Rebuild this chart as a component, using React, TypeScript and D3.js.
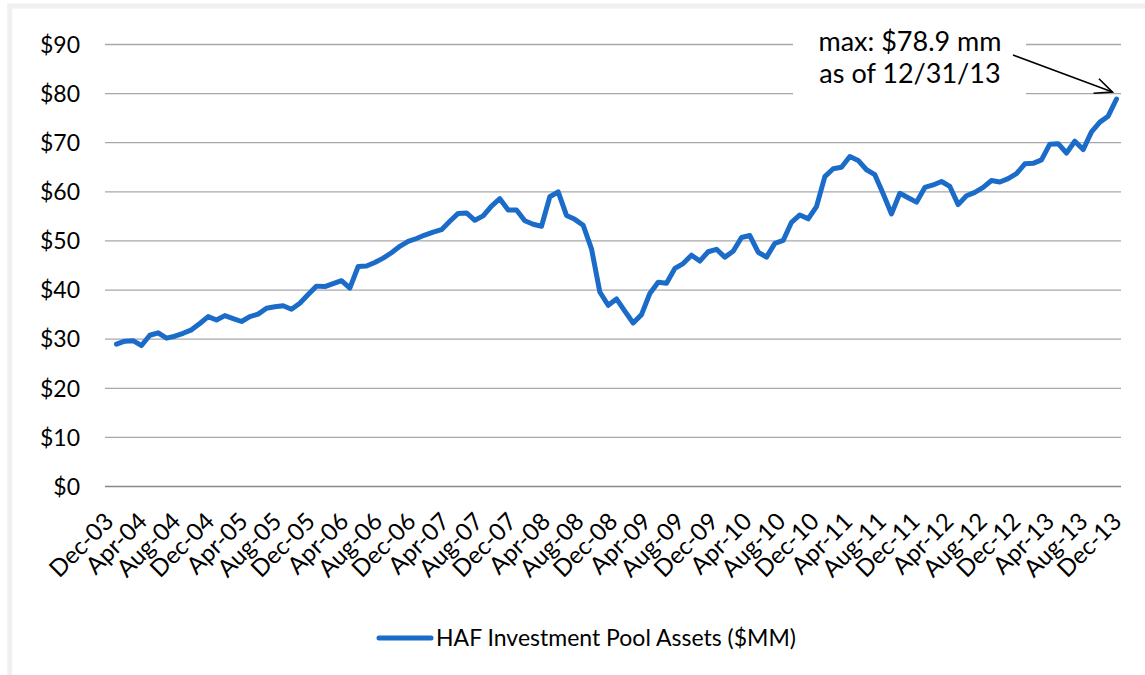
import React from "react";
import * as d3 from "d3";

// Monthly HAF Investment Pool Assets ($MM), Dec-03 .. Dec-13
const poolAssets: number[] = [
  29.0, 29.6, 29.7, 28.7, 30.8, 31.3, 30.2, 30.6, 31.2, 31.9,
  33.2, 34.6, 33.9, 34.8, 34.2, 33.6, 34.6, 35.1, 36.3, 36.6,
  36.8, 36.1, 37.3, 39.1, 40.8, 40.7, 41.3, 41.9, 40.4, 44.8,
  44.9, 45.6, 46.5, 47.6, 48.9, 49.9, 50.5, 51.2, 51.8, 52.3,
  54.0, 55.6, 55.7, 54.2, 55.1, 57.1, 58.6, 56.3, 56.3, 54.1,
  53.4, 53.0, 59.0, 60.0, 55.2, 54.4, 53.2, 48.4, 39.6, 36.9,
  38.2, 35.7, 33.3, 35.0, 39.3, 41.6, 41.4, 44.4, 45.4, 47.1,
  45.9, 47.8, 48.3, 46.7, 47.9, 50.7, 51.1, 47.7, 46.7, 49.5,
  50.1, 53.8, 55.3, 54.5, 57.0, 63.1, 64.7, 65.0, 67.2, 66.4,
  64.5, 63.5, 59.6, 55.5, 59.7, 58.8, 57.9, 60.9, 61.4, 62.1,
  61.1, 57.4, 59.2, 59.9, 60.9, 62.3, 62.0, 62.7, 63.7, 65.7,
  65.8, 66.5, 69.7, 69.8, 67.9, 70.3, 68.6, 72.2, 74.2, 75.4,
  78.9,
];

const months: Date[] = d3.timeMonth.range(new Date(2003, 11, 1), new Date(2014, 0, 1));
const categories: string[] = months.map(d3.timeFormat("%b-%y"));

const tickLabels: string[] = [
  "Dec-03", "Apr-04", "Aug-04", "Dec-04", "Apr-05", "Aug-05", "Dec-05", "Apr-06",
  "Aug-06", "Dec-06", "Apr-07", "Aug-07", "Dec-07", "Apr-08", "Aug-08", "Dec-08",
  "Apr-09", "Aug-09", "Dec-09", "Apr-10", "Aug-10", "Dec-10", "Apr-11", "Aug-11",
  "Dec-11", "Apr-12", "Aug-12", "Dec-12", "Apr-13", "Aug-13", "Dec-13",
];

const yTicks: number[] = [0, 10, 20, 30, 40, 50, 60, 70, 80, 90];

const seriesName = "HAF Investment Pool Assets ($MM)";
const noteLines: string[] = ["max: $78.9 mm", "as of 12/31/13"];

const FONT = "Lato, 'Open Sans', 'DejaVu Sans', sans-serif";
const BLUE = "#1b6bc9";

export default function App() {
  const W = 1145;
  const H = 675;
  const x = d3.scalePoint<string>().domain(categories).range([116.5, 1116.5]);
  const xLab = d3.scalePoint<string>().domain(categories).range([115, 1123]);
  const y = d3.scaleLinear().domain([0, 90]).range([486.5, 44.5]);
  const gridX0 = 105;
  const gridX1 = 1121;

  const line = d3
    .line<number>()
    .x((_, i) => x(categories[i]) as number)
    .y((d) => y(d));

  const lastIdx = poolAssets.length - 1;
  const tipX = (x(categories[lastIdx]) as number) - 4;
  const tipY = y(80) - 1.5;
  const startX = 1013;
  const startY = 55;
  const ang = Math.atan2(tipY - startY, tipX - startX);
  const head = 19;
  const spread = 0.42;
  const h1 = [tipX - head * Math.cos(ang - spread), tipY - head * Math.sin(ang - spread)];
  const h2 = [tipX - head * Math.cos(ang + spread), tipY - head * Math.sin(ang + spread)];

  return (
    <svg
      width={W}
      height={H}
      style={{ position: "absolute", left: 0, top: 0, background: "#fff" }}
      fontFamily={FONT}
    >
      <rect x={0} y={0} width={W} height={H} fill="#fff" />
      <rect x={9.8} y={6} width={1200} height={700} fill="#fff" stroke="#f0f0f0" strokeWidth={5} />

      {/* gridlines */}
      {yTicks.map((t) => (
        <line
          key={"g" + t}
          x1={gridX0}
          x2={gridX1}
          y1={y(t)}
          y2={y(t)}
          stroke={t === 0 ? "#878787" : "#a8a8a8"}
          strokeWidth={t === 0 ? 1.6 : 1.3}
        />
      ))}

      {/* y tick labels */}
      {yTicks.map((t) => (
        <text
          key={"yl" + t}
          x={80}
          y={y(t)}
          dy="0.36em"
          textAnchor="end"
          fontSize={23}
          fill="#000"
        >
          {"$" + t}
        </text>
      ))}

      {/* x tick labels */}
      {tickLabels.map((lab) => (
        <text
          key={"xl" + lab}
          transform={`translate(${xLab(lab)},${523}) rotate(-45)`}
          textAnchor="end"
          fontSize={24}
          fill="#000"
        >
          {lab}
        </text>
      ))}

      {/* data line */}
      <path
        d={line(poolAssets) || ""}
        fill="none"
        stroke={BLUE}
        strokeWidth={5}
        strokeLinejoin="round"
        strokeLinecap="round"
      />

      {/* annotation box */}
      <rect x={793} y={22} width={233} height={78} fill="#fff" />
      {noteLines.map((t, i) => (
        <text key={"n" + i} x={910} y={51 + i * 32} textAnchor="middle" fontSize={27} fill="#000">
          {t}
        </text>
      ))}
      <line x1={startX} y1={startY} x2={tipX} y2={tipY} stroke="#000" strokeWidth={1.6} />
      <polyline
        points={`${h1[0]},${h1[1]} ${tipX},${tipY} ${h2[0]},${h2[1]}`}
        fill="none"
        stroke="#000"
        strokeWidth={1.6}
      />

      {/* legend */}
      <line x1={379} x2={431} y1={638} y2={638} stroke={BLUE} strokeWidth={5} strokeLinecap="round" />
      <text x={436} y={638} dy="0.36em" fontSize={23} fill="#000">
        {seriesName}
      </text>
    </svg>
  );
}
